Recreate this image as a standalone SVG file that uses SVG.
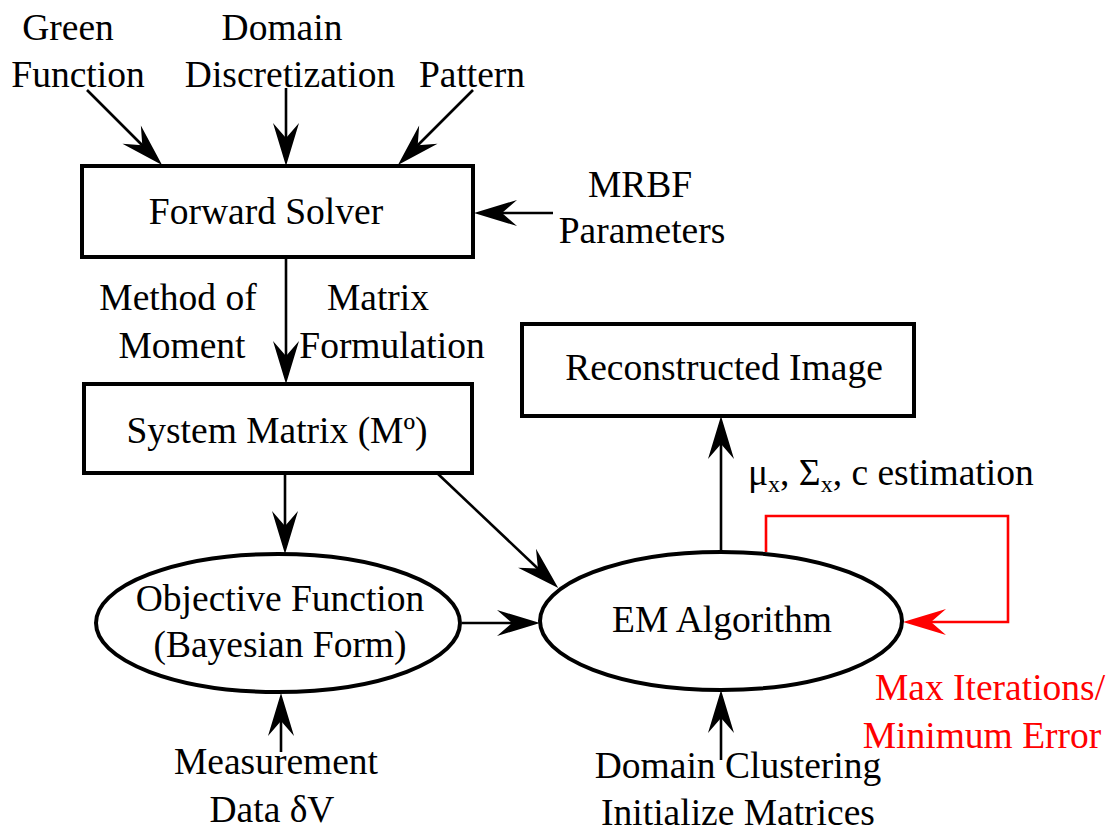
<svg xmlns="http://www.w3.org/2000/svg" width="1119" height="832" viewBox="0 0 1119 832">
<style>
text{font-family:"Liberation Serif","Tinos","Nimbus Roman","Times New Roman","DejaVu Serif",serif;font-size:37.5px;fill:#000;text-anchor:middle}
.red{fill:#ff0000}
.box{fill:#fff;stroke:#000;stroke-width:4}
.ln{fill:none;stroke:#000;stroke-width:2.6}
.rl{fill:none;stroke:#ff0000;stroke-width:2.6}
</style>
<defs>
<marker id="ah" viewBox="-54 -15 56 30" refX="-10" refY="0" markerWidth="56" markerHeight="30" markerUnits="userSpaceOnUse" orient="auto">
<path d="M0,0 L-43,-13 L-28,0 L-43,13 Z" fill="#000"/>
</marker>
<marker id="ahr" viewBox="-54 -15 56 30" refX="-10" refY="0" markerWidth="56" markerHeight="30" markerUnits="userSpaceOnUse" orient="auto">
<path d="M0,0 L-43,-13 L-28,0 L-43,13 Z" fill="#ff0000"/>
</marker>
</defs>
<rect width="1119" height="832" fill="#fff"/>
<g id="connectors">
<path class="ln" d="M87,90 L155,158" marker-end="url(#ah)"/>
<path class="ln" d="M286,88 L286,156" marker-end="url(#ah)"/>
<path class="ln" d="M473,90 L405,158" marker-end="url(#ah)"/>
<path class="ln" d="M553,213 L484,213" marker-end="url(#ah)"/>
<path class="ln" d="M286,257 L286,374" marker-end="url(#ah)"/>
<path class="ln" d="M285,473 L285,544" marker-end="url(#ah)"/>
<path class="ln" d="M437,473 L551,581" marker-end="url(#ah)"/>
<path class="ln" d="M462,623 L530,623" marker-end="url(#ah)"/>
<path class="ln" d="M281,752 L281,703" marker-end="url(#ah)"/>
<path class="ln" d="M721,760 L721,700" marker-end="url(#ah)"/>
<path class="ln" d="M721,552 L721,426" marker-end="url(#ah)"/>
<path class="rl" d="M766,552 L766,516 L1008,516 L1008,622 L913,622" marker-end="url(#ahr)"/>
</g>
<g id="green-function"><text x="68" y="40">Green</text><text x="78" y="87">Function</text></g>
<g id="domain-discretization"><text x="282" y="40">Domain</text><text x="290" y="87">Discretization</text></g>
<g id="pattern"><text x="472" y="87">Pattern</text></g>
<g id="forward-solver"><rect class="box" x="82" y="166" width="391" height="91"/><text x="266" y="224">Forward Solver</text></g>
<g id="mrbf"><text x="640" y="197">MRBF</text><text x="642" y="243">Parameters</text></g>
<g id="method-label"><text x="178" y="310">Method of</text><text x="182" y="358">Moment</text></g>
<g id="matrix-label"><text x="378" y="310">Matrix</text><text x="392" y="358">Formulation</text></g>
<g id="system-matrix"><rect class="box" x="84" y="384" width="388" height="89"/><text x="277" y="443">System Matrix (Mº)</text></g>
<g id="reconstructed-image"><rect class="box" x="522" y="324" width="392" height="92"/><text x="724" y="380">Reconstructed Image</text></g>
<g id="estimation-label"><text x="748" y="485" style="text-anchor:start">μ<tspan font-size="24" dy="7">x</tspan><tspan dy="-7">, Σ</tspan><tspan font-size="24" dy="7">x</tspan><tspan dy="-7">, c estimation</tspan></text></g>
<g id="objective-function"><ellipse class="box" cx="278" cy="623" rx="182" ry="69"/><text x="280" y="611">Objective Function</text><text x="280" y="657">(Bayesian Form)</text></g>
<g id="em-algorithm"><ellipse class="box" cx="721" cy="621" rx="181" ry="69"/><text x="722" y="632">EM Algorithm</text></g>
<g id="max-iterations"><text class="red" x="990" y="700">Max Iterations/</text><text class="red" x="982" y="748">Minimum Error</text></g>
<g id="measurement"><text x="276" y="774">Measurement</text><text x="272" y="822">Data δV</text></g>
<g id="domain-clustering"><text x="738" y="778">Domain Clustering</text><text x="738" y="825">Initialize Matrices</text></g>
</svg>
